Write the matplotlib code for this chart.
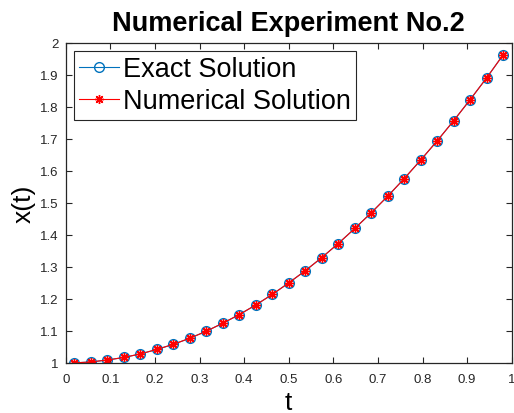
import matplotlib.pyplot as plt

plt.rcParams['font.family'] = ['Liberation Sans', 'DejaVu Sans']

t_vals = [0.019, 0.056, 0.093, 0.130, 0.167, 0.204, 0.241, 0.278, 0.315,
          0.352, 0.389, 0.426, 0.463, 0.500, 0.537, 0.574, 0.611, 0.648,
          0.685, 0.722, 0.759, 0.796, 0.833, 0.870, 0.907, 0.944, 0.981]
x_exact = [1.000, 1.003, 1.009, 1.017, 1.028, 1.042, 1.058, 1.077, 1.099,
           1.124, 1.151, 1.181, 1.214, 1.250, 1.288, 1.329, 1.373, 1.420,
           1.469, 1.521, 1.576, 1.634, 1.694, 1.757, 1.823, 1.891, 1.963]
x_num = [1.000, 1.003, 1.009, 1.017, 1.028, 1.042, 1.058, 1.077, 1.099,
         1.124, 1.151, 1.181, 1.214, 1.250, 1.288, 1.329, 1.373, 1.420,
         1.469, 1.521, 1.576, 1.634, 1.694, 1.757, 1.823, 1.891, 1.963]

x_ticks = [0, 0.1, 0.2, 0.3, 0.4, 0.5, 0.6, 0.7, 0.8, 0.9, 1]
x_tick_labels = ['0', '0.1', '0.2', '0.3', '0.4', '0.5', '0.6', '0.7', '0.8', '0.9', '1']
y_ticks = [1, 1.1, 1.2, 1.3, 1.4, 1.5, 1.6, 1.7, 1.8, 1.9, 2]
y_tick_labels = ['1', '1.1', '1.2', '1.3', '1.4', '1.5', '1.6', '1.7', '1.8', '1.9', '2']

fig = plt.figure(figsize=(5.14, 4.14), dpi=100)
ax = fig.add_axes([0.128, 0.121, 0.8675, 0.773])

# asterisk marker with 8 arms
star8 = (8, 2, 0)

ax.plot(t_vals, x_exact, '-o', color='#0072BD', lw=0.8, ms=7,
        mfc='none', mew=1.0, label='Exact Solution')
ax.plot(t_vals, x_num, '-', marker=star8, color='#FF0000', lw=0.8, ms=6.5,
        mew=1.0, label='Numerical Solution')

ax.set_xlim(0, 1)
ax.set_ylim(1, 2)
ax.set_xticks(x_ticks)
ax.set_xticklabels(x_tick_labels)
ax.set_yticks(y_ticks)
ax.set_yticklabels(y_tick_labels)
ax.tick_params(direction='in', top=True, right=True, length=4,
               labelsize=9.5, colors='#262626', labelcolor='#262626')
ax.tick_params(axis='x', pad=7)
ax.tick_params(axis='y', pad=5)
for sp in ax.spines.values():
    sp.set_color('#262626')
    sp.set_linewidth(0.9)

ax.set_xlabel('t', fontsize=19, labelpad=4)
ax.set_ylabel('x(t)', fontsize=19, labelpad=3)
ax.set_title('Numerical Experiment No.2', fontsize=19.5, fontweight='bold', pad=9)

leg = ax.legend(loc='upper left', fontsize=19.5, fancybox=False, framealpha=1,
                edgecolor='#262626', borderaxespad=0.3, handlelength=1.45,
                handletextpad=0.15, borderpad=0.2, labelspacing=0.22)
leg.get_frame().set_linewidth(0.8)

fig.savefig('out.png', dpi=100)
